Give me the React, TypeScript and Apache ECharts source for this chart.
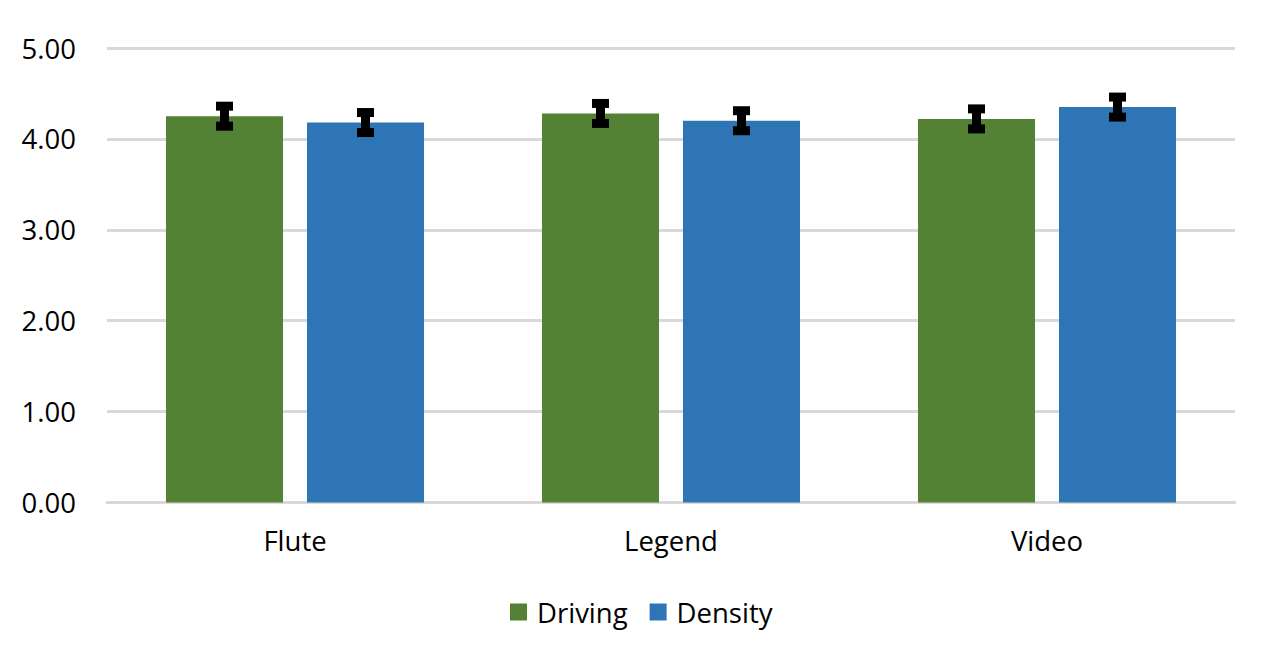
import React, { useEffect, useRef } from "react";
import * as echarts from "echarts";

const categories = ["Flute", "Legend", "Video"];
const seriesNames = ["Driving", "Density"];
const drivingValues = [4.25, 4.28, 4.22];
const densityValues = [4.18, 4.2, 4.35];
const drivingErrors = [0.11, 0.11, 0.11];
const densityErrors = [0.11, 0.11, 0.11];
const yTicks = [0, 1, 2, 3, 4, 5];

const GREEN = "#548235";
const BLUE = "#2E75B6";
const FONT = "'Open Sans', 'Noto Sans', sans-serif";
const FS = 27.5;

function makeErrorSeries(values: number[], errors: number[], offset: number) {
  return {
    type: "custom",
    silent: true,
    z: 10,
    data: values.map((v, i) => [i, v, errors[i]]),
    renderItem: (params: any, api: any) => {
      const idx = api.value(0);
      const v = api.value(1);
      const e = api.value(2);
      const top = api.coord([idx, v + e]);
      const bot = api.coord([idx, v - e]);
      const cx = top[0] + offset;
      const capW = 17;
      const capH = 9;
      const stemW = 9;
      return {
        type: "group",
        children: [
          {
            type: "rect",
            shape: { x: cx - stemW / 2, y: top[1], width: stemW, height: bot[1] - top[1] },
            style: { fill: "#000" },
          },
          {
            type: "rect",
            shape: { x: cx - capW / 2, y: top[1] - capH / 2, width: capW, height: capH },
            style: { fill: "#000" },
          },
          {
            type: "rect",
            shape: { x: cx - capW / 2, y: bot[1] - capH / 2, width: capW, height: capH },
            style: { fill: "#000" },
          },
        ],
      };
    },
  };
}

export default function App() {
  const ref = useRef<HTMLDivElement>(null);
  useEffect(() => {
    if (!ref.current) return;
    const chart = echarts.init(ref.current, null, { renderer: "svg" });
    chart.setOption({
      animation: false,
      textStyle: { fontFamily: FONT },
      grid: { left: 99, right: 31, top: 40, bottom: 153.5 },
      legend: {
        data: seriesNames,
        top: 585,
        left: 497,
        itemWidth: 17,
        itemHeight: 17,
        itemGap: 22,
        icon: "rect",
        textStyle: { fontSize: FS, color: "#000", fontFamily: FONT, padding: [0, 0, 0, 5] },
      },
      xAxis: {
        type: "category",
        data: categories,
        axisTick: { show: false },
        axisLine: { lineStyle: { color: "#d9d9d9", width: 3 } },
        axisLabel: { fontSize: FS, color: "#000", margin: 24, fontFamily: FONT },
      },
      yAxis: {
        type: "value",
        min: yTicks[0],
        max: yTicks[yTicks.length - 1],
        interval: 1,
        axisLine: { show: false },
        axisTick: { show: false },
        splitLine: { lineStyle: { color: "#d9d9d9", width: 3 } },
        axisLabel: {
          fontSize: FS,
          color: "#000",
          margin: 31,
          fontFamily: FONT,
          formatter: (v: number) => v.toFixed(2),
        },
      },
      series: [
        {
          name: seriesNames[0],
          type: "bar",
          data: drivingValues,
          barWidth: 117,
          barGap: "20.5%",
          itemStyle: { color: GREEN },
        },
        {
          name: seriesNames[1],
          type: "bar",
          data: densityValues,
          barWidth: 117,
          barGap: "20.5%",
          itemStyle: { color: BLUE },
        },
        makeErrorSeries(drivingValues, drivingErrors, -70.5),
        makeErrorSeries(densityValues, densityErrors, 70.5),
      ],
    });
    return () => chart.dispose();
  }, []);
  return <div ref={ref} style={{ width: 1258, height: 648 }} />;
}
